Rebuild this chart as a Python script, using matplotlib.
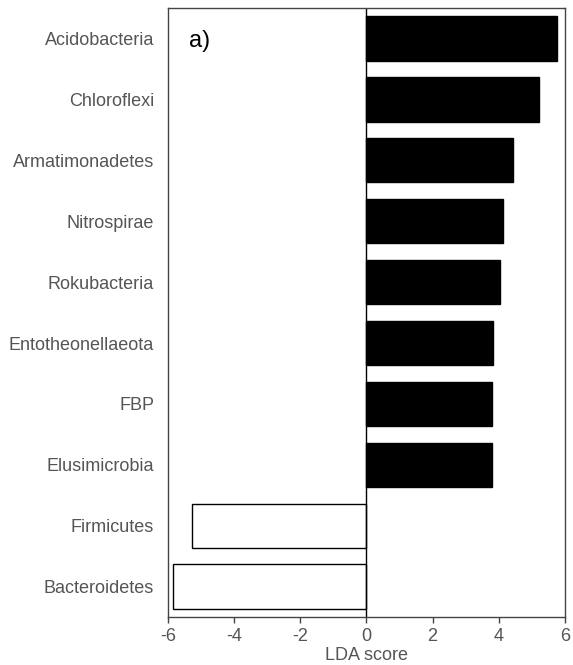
import matplotlib
matplotlib.use("Agg")
import matplotlib.pyplot as plt

plt.rcParams['font.family'] = ['Liberation Sans', 'DejaVu Sans']

taxa = ["Acidobacteria", "Chloroflexi", "Armatimonadetes", "Nitrospirae",
        "Rokubacteria", "Entotheonellaeota", "FBP", "Elusimicrobia",
        "Firmicutes", "Bacteroidetes"]
lda = [5.76, 5.20, 4.43, 4.13, 4.04, 3.82, 3.78, 3.78, -5.27, -5.84]
xticks = [-6, -4, -2, 0, 2, 4, 6]

fig = plt.figure(figsize=(5.73, 6.65), dpi=100)
ax = fig.add_axes([0.293, 0.072, 0.693, 0.916])

pos = list(range(len(taxa)))
colors = ["black" if v > 0 else "white" for v in lda]
ax.barh(pos, lda, height=0.73, color=colors, edgecolor="black", linewidth=1.0)
ax.axvline(0, color="black", linewidth=1.0)

ax.set_ylim(len(taxa) - 0.5, -0.5)
ax.set_xlim(-6, 6)
ax.set_xticks(xticks)
ax.set_xticklabels([str(t) for t in xticks])
ax.set_yticks(pos)
ax.set_yticklabels(taxa)
ax.tick_params(axis="y", length=0, pad=10, labelsize=13, labelcolor="#555555")
ax.tick_params(axis="x", direction="out", length=4, width=1, color="#444444",
               labelsize=13, labelcolor="#555555", pad=4)
for s in ax.spines.values():
    s.set_color("#444444")
    s.set_linewidth(1.0)

ax.set_xlabel("LDA score", fontsize=13, color="#555555", labelpad=1)
ax.text(-5.35, 0.05, "a)", fontsize=17, ha="left", va="center", color="black")

fig.savefig("out.png", dpi=100)
